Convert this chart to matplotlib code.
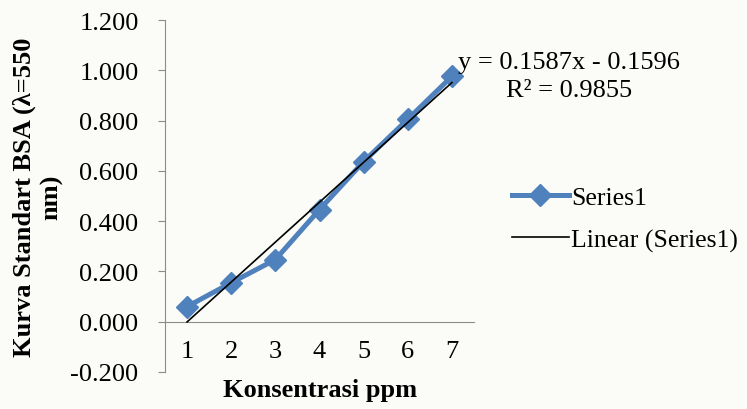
import matplotlib.pyplot as plt
import numpy as np

plt.rcParams['font.family'] = ['Liberation Serif', 'DejaVu Serif']
plt.rcParams['axes.unicode_minus'] = False

# Data
konsentrasi = [1, 2, 3, 4, 5, 6, 7]
absorbansi = [0.060, 0.155, 0.247, 0.446, 0.637, 0.805, 0.976]
slope = 0.1587
intercept = -0.1596
r2 = 0.9855
y_ticks = [-0.2, 0.0, 0.2, 0.4, 0.6, 0.8, 1.0, 1.2]

fig = plt.figure(figsize=(7.47, 4.10), dpi=100, facecolor='#fbfbf7')
ax = fig.add_axes([165 / 747, 1 - 373 / 410, 309 / 747, 352 / 410])
ax.set_facecolor('none')

x = np.array(konsentrasi)
ax.plot(x, absorbansi, color='#4f81bd', lw=3.6, marker='D', ms=11.5,
        label='Series1', zorder=3)
ax.plot(x, slope * x + intercept, color='black', lw=1.2,
        label='Linear (Series1)', zorder=4)

ax.set_xlim(0.5, 7.5)
ax.set_ylim(-0.2, 1.2)
ax.set_yticks(y_ticks)
ax.set_yticklabels(['%.3f' % v for v in y_ticks])
ax.set_xticks(konsentrasi)

for s in ['top', 'right']:
    ax.spines[s].set_visible(False)
ax.spines['bottom'].set_position(('data', 0))
ax.spines['bottom'].set_color('#8c8c8c')
ax.spines['left'].set_color('#8c8c8c')
ax.tick_params(axis='x', length=0, pad=13, labelsize=19)
ax.tick_params(axis='y', length=5, color='#8c8c8c', pad=14, labelsize=19)

fig.text(38 / 747, 1 - 197 / 410, 'Kurva Standart BSA (λ=550\nnm)',
         fontsize=19, fontweight='bold', rotation=90, ha='center',
         va='center', linespacing=1.2, multialignment='center')
fig.text(320 / 747, 1 - 391 / 410, 'Konsentrasi ppm', fontsize=19,
         fontweight='bold', ha='center', va='center')

fig.text(569 / 747, 1 - 77 / 410,
         'y = %.4fx - %.4f\nR² = %.4f' % (slope, -intercept, r2),
         fontsize=19, ha='center', va='center', linespacing=1.3)

fig.legend(loc='center left', bbox_to_anchor=(512 / 747, 1 - 220 / 410),
           frameon=False, fontsize=18.5, handlelength=2.2, handletextpad=0.1,
           labelspacing=0.75, borderaxespad=0, borderpad=0)

fig.savefig('out.png', dpi=100, facecolor=fig.get_facecolor())
